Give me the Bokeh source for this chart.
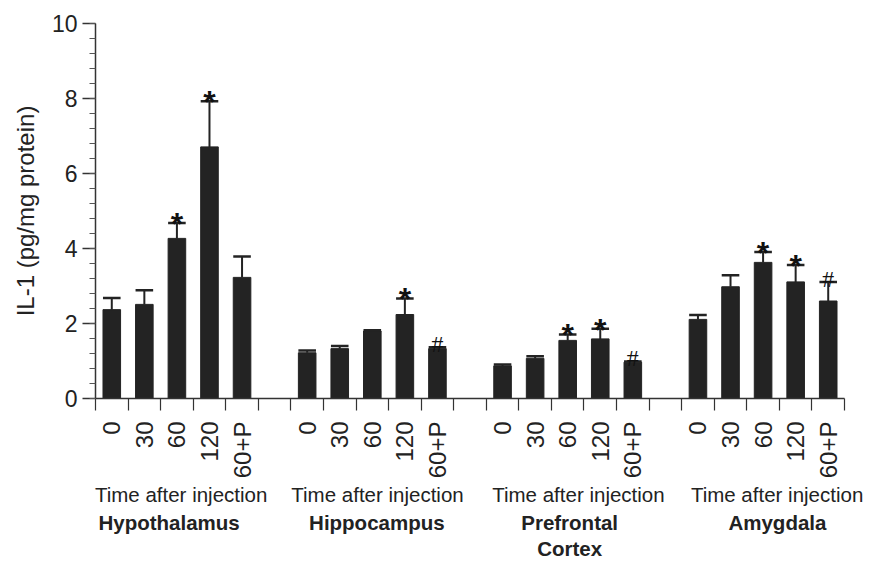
import math
from bokeh.plotting import figure, ColumnDataSource
from bokeh.models import Range1d, FixedTicker, LinearAxis
from bokeh.core.properties import value
from bokeh.embed import file_html
from bokeh.resources import INLINE

# ---- data ----
times = ["0", "30", "60", "120", "60+P"]
regions = ["Hypothalamus", "Hippocampus", "Prefrontal\nCortex", "Amygdala"]
hypothalamus_mean = [2.37, 2.51, 4.27, 6.71, 3.23]
hypothalamus_sem = [0.31, 0.38, 0.41, 1.22, 0.56]
hippocampus_mean = [1.22, 1.33, 1.80, 2.24, 1.33]
hippocampus_sem = [0.06, 0.07, 0.02, 0.43, 0.04]
prefrontal_mean = [0.87, 1.07, 1.55, 1.59, 0.97]
prefrontal_sem = [0.04, 0.06, 0.16, 0.27, 0.02]
amygdala_mean = [2.11, 2.98, 3.63, 3.11, 2.60]
amygdala_sem = [0.12, 0.31, 0.28, 0.45, 0.51]
hypothalamus_sig = ["", "", "*", "*", ""]
hippocampus_sig = ["", "", "", "*", "#"]
prefrontal_sig = ["", "", "*", "*", "#"]
amygdala_sig = ["", "", "*", "*", "#"]
y_ticks = [0, 2, 4, 6, 8, 10]
axis_title = "IL-1 (pg/mg protein)"
x_title = "Time after injection"

means = [hypothalamus_mean, hippocampus_mean, prefrontal_mean, amygdala_mean]
sems = [hypothalamus_sem, hippocampus_sem, prefrontal_sem, amygdala_sem]
sigs = [hypothalamus_sig, hippocampus_sig, prefrontal_sig, amygdala_sig]

# ---- layout constants ----
GROUP_STRIDE = 6
N_SLOTS = 23
BAR_W = 0.54
FONT = "Liberation Sans"
DARK = "#232323"
TEXT = "#222222"

xs, tops, caps, labels, stars, hashes = [], [], [], [], [], []
for g in range(len(regions)):
    for j, t in enumerate(times):
        x = g * GROUP_STRIDE + j + 0.5
        xs.append(x)
        tops.append(means[g][j])
        caps.append(means[g][j] + sems[g][j])
        labels.append(t)
        stars.append("*" if sigs[g][j] == "*" else "")
        hashes.append("#" if sigs[g][j] == "#" else "")

src = ColumnDataSource(dict(x=xs, top=tops, cap=caps, star=stars, hash=hashes,
                            left=[x - BAR_W / 2 for x in xs],
                            right=[x + BAR_W / 2 for x in xs]))

p = figure(frame_width=749, frame_height=375,
           min_border_left=95, min_border_right=42,
           min_border_top=23, min_border_bottom=150,
           x_range=Range1d(0, N_SLOTS), y_range=Range1d(0, 10),
           output_backend="svg", toolbar_location=None, tools="")
p.outline_line_color = None
p.xgrid.visible = False
p.ygrid.visible = False
p.background_fill_color = "white"
p.border_fill_color = "white"

# bars
p.vbar(x="x", top="top", bottom=0, width=BAR_W, source=src,
       fill_color=DARK, line_color=DARK, line_width=1)
# error bars (upper only)
p.segment(x0="x", y0="top", x1="x", y1="cap", source=src,
          line_color=DARK, line_width=2)
p.segment(x0="left", y0="cap", x1="right", y1="cap", source=src,
          line_color=DARK, line_width=2.5)
# significance marks
p.text(x="x", y="cap", text="star", source=src, text_align="center",
       text_baseline="alphabetic", y_offset=1,
       text_font=value(FONT), text_font_style="bold",
       text_font_size="32px", text_color="#111111")
p.text(x="x", y="cap", text="hash", source=src, text_align="center",
       text_baseline="alphabetic", y_offset=-3,
       text_font=value("Liberation Serif"),
       text_font_size="24px", text_color="#111111")

# y axis
ya = p.yaxis[0]
ya.ticker = FixedTicker(ticks=y_ticks,
                        minor_ticks=[round(0.4 * k, 1) for k in range(26)])
ya.axis_label = axis_title
ya.axis_label_text_font = FONT
ya.axis_label_text_font_style = "normal"
ya.axis_label_text_font_size = "24px"
ya.axis_label_text_color = TEXT
ya.axis_label_standoff = 10
ya.major_label_text_font = FONT
ya.major_label_text_font_size = "23px"
ya.major_label_text_color = TEXT
ya.major_label_standoff = 5
ya.axis_line_color = "#333333"
ya.axis_line_width = 1.5
ya.major_tick_line_color = "#333333"
ya.major_tick_line_width = 1.5
ya.major_tick_out = 13
ya.major_tick_in = 0
ya.minor_tick_line_color = "#555555"
ya.minor_tick_line_width = 1
ya.minor_tick_out = 6
ya.minor_tick_in = 0

# x axis: slot boundaries as (minor) ticks, time labels at slot centres
xa = p.xaxis[0]
xa.ticker = FixedTicker(ticks=xs, minor_ticks=list(range(N_SLOTS + 1)))
xa.major_label_overrides = {x: t for x, t in zip(xs, labels)}
xa.major_label_orientation = math.pi / 2
xa.major_label_text_font = FONT
xa.major_label_text_font_size = "24px"
xa.major_label_text_color = TEXT
xa.major_label_standoff = 11
xa.major_tick_line_color = None
xa.major_tick_out = 0
xa.major_tick_in = 0
xa.minor_tick_line_color = "#333333"
xa.minor_tick_line_width = 1.2
xa.minor_tick_out = 12
xa.minor_tick_in = 0
xa.axis_line_color = "#333333"
xa.axis_line_width = 1.5

# caption rows as further axes below
time_x = [2.63, 8.66, 14.83, 20.93]
name_x = [2.26, 8.64, 14.56, 20.94]

def caption_axis(positions, texts, bold, standoff, line_height=1.2):
    ax = LinearAxis(ticker=FixedTicker(ticks=positions, minor_ticks=[]))
    ax.major_label_overrides = {x: t for x, t in zip(positions, texts)}
    ax.major_label_text_font = FONT
    ax.major_label_text_font_size = "20.5px"
    ax.major_label_text_font_style = "bold" if bold else "normal"
    ax.major_label_text_color = TEXT
    ax.major_label_text_line_height = line_height
    ax.major_label_standoff = standoff
    ax.major_tick_line_color = None
    ax.major_tick_out = 0
    ax.major_tick_in = 0
    ax.minor_tick_line_color = None
    ax.axis_line_color = None
    return ax

p.add_layout(caption_axis(time_x, [x_title] * len(time_x), False, 1), "below")
p.add_layout(caption_axis(name_x, regions, True, 2, 1.15), "below")

open("out.html", "w").write(file_html(p, INLINE))
